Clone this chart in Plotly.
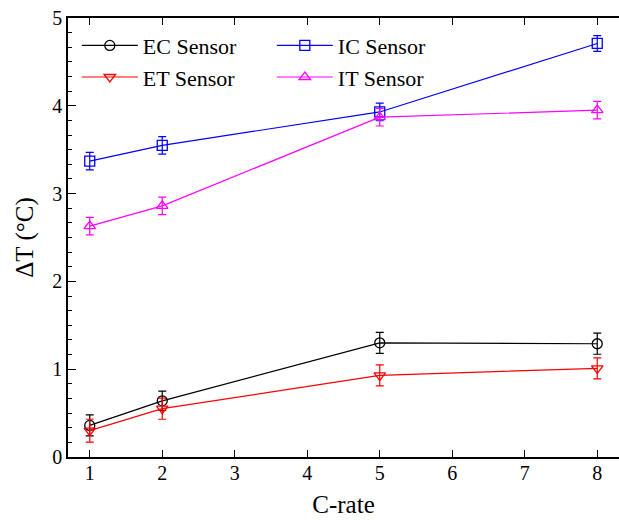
import plotly.graph_objects as go

c_rate = [1, 2, 5, 8]

ec_vals = [0.36, 0.64, 1.30, 1.29]
ec_err = [0.12, 0.11, 0.12, 0.12]
et_vals = [0.30, 0.55, 0.93, 1.01]
et_err = [0.13, 0.12, 0.12, 0.12]
ic_vals = [3.37, 3.55, 3.93, 4.71]
ic_err = [0.10, 0.10, 0.10, 0.09]
it_vals = [2.63, 2.86, 3.87, 3.95]
it_err = [0.10, 0.10, 0.10, 0.10]

series = [
    ("EC Sensor", ec_vals, ec_err, "#000000", "circle-open"),
    ("IC Sensor", ic_vals, ic_err, "#0000FF", "square-open"),
    ("ET Sensor", et_vals, et_err, "#FF0000", "triangle-down-open"),
    ("IT Sensor", it_vals, it_err, "#FF00FF", "triangle-up-open"),
]

FONT = "Liberation Serif, Times New Roman, serif"

fig = go.Figure()
for name, vals, err, color, sym in series:
    fig.add_trace(go.Scatter(
        x=c_rate, y=vals, name=name, mode="lines+markers",
        line=dict(color=color, width=1.2),
        marker=dict(symbol=sym, size=10, color=color, line=dict(width=1.3, color=color)),
        error_y=dict(type="data", array=err, visible=True, color=color, thickness=1.2, width=4),
    ))

fig.update_layout(
    width=619, height=520,
    margin=dict(l=68, r=0, t=18, b=63),
    paper_bgcolor="white", plot_bgcolor="white",
    font=dict(family=FONT, color="#000000"),
    showlegend=True,
    legend=dict(
        orientation="h", x=0.016, y=0.985, xanchor="left", yanchor="top",
        entrywidth=124, entrywidthmode="pixels", itemwidth=56,
        font=dict(size=22, family=FONT), bgcolor="rgba(0,0,0,0)",
        tracegroupgap=0, traceorder="normal",
    ),
    xaxis=dict(
        range=[0.7, 8.3], tickmode="array", tickvals=[1, 2, 3, 4, 5, 6, 7, 8],
        ticks="inside", ticklen=7, tickwidth=1.2, tickcolor="#000",
        showline=True, linecolor="#000", linewidth=1.5, mirror="ticks",
        showgrid=False, zeroline=False, ticklabelstandoff=-3,
        tickfont=dict(size=20, family=FONT),
        title=dict(text="C-rate", font=dict(size=25, family=FONT), standoff=13),
    ),
    yaxis=dict(
        range=[0, 5], tickmode="array", tickvals=[0, 1, 2, 3, 4, 5],
        ticks="inside", ticklen=8, tickwidth=1.2, tickcolor="#000",
        minor=dict(dtick=1/6, tick0=0, ticks="inside", ticklen=4, tickwidth=1.2, tickcolor="#000", showgrid=False),
        showline=True, linecolor="#000", linewidth=1.5,
        showgrid=False, zeroline=False,
        tickfont=dict(size=20, family=FONT),
        title=dict(text="ΔT (°C)", font=dict(size=25, family=FONT), standoff=12),
    ),
)

fig.write_html("out.html")
